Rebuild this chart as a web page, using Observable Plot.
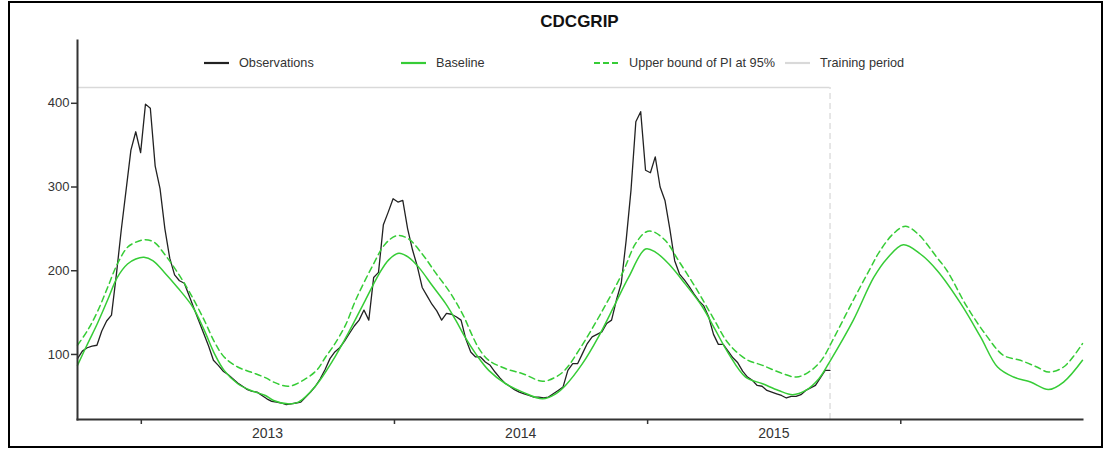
<!DOCTYPE html>
<html>
<head>
<meta charset="utf-8">
<script src="https://cdn.jsdelivr.net/npm/d3@7"></script>
<script src="https://cdn.jsdelivr.net/npm/@observablehq/plot@0.6"></script>
<style>
  html, body { margin: 0; padding: 0; background: #fff; }
  body { font-family: "Liberation Sans", Arial, sans-serif; }
  #wrap { position: relative; width: 1105px; height: 450px; overflow: hidden; background: #fff; }
  #chart { position: absolute; left: 0; top: 0; }
  #frame { position: absolute; left: 8px; top: 1px; width: 1095px; height: 447px; box-sizing: border-box; border: 2px solid #000; pointer-events: none; }
  #title { position: absolute; left: 77px; width: 1005px; top: 13px; text-align: center; font-weight: bold; font-size: 17px; line-height: 17px; color: #111; }
  .item { position: absolute; top: 55px; height: 16px; display: flex; align-items: center; font-size: 12.7px; line-height: 16px; color: #333; white-space: nowrap; }
  .item svg { display: block; margin-right: 10px; }
</style>
</head>
<body>
<div id="wrap">
  <div id="chart"></div>
  <div id="title"></div>
  <div id="legend"></div>
  <div id="frame"></div>
</div>
<script>
// ---- data ----
const chartTitle = "CDCGRIP";
const obsStart = "2012-10-01"; // first weekly observation
const observations = [
  95,104,108,110,111,128,140,147,195,248,296,344,366,341,399,394,325,298,250,215,
  195,188,185,170,155,140,125,110,93,87,80,76,71,66,62,58,56,55,51,47,
  44,43,42,40,41,42,43,49,55,62,71,82,95,103,108,116,125,134,141,153,
  141,192,198,255,270,286,282,284,250,225,205,180,170,160,152,141,149,148,145,141,
  118,103,97,97,91,87,79,72,66,62,58,55,53,51,49,49,48,49,53,57,
  61,81,89,89,101,113,121,124,127,137,141,165,185,236,296,378,390,320,317,336,
  300,284,250,212,196,189,181,172,164,158,145,124,112,112,104,96,90,80,73,69,
  63,62,57,55,53,51,48,50,50,52,57,60,63,72,81,81
];
// baseline: week offset from obsStart, value
const baselineWeek = [0,2.1,4.1,6.2,8.2,10.3,12,13.7,15.5,17.9,20.6,23.7,26.1,28.2,30.2,33,35.7,38.7,40.4,43.3,45.5,49,52.5,55.9,59.3,62.1,64.1,66.2,68.2,70.3,73.1,75.8,77.9,79.9,82,84.7,88.2,91.7,95.8,98.5,100.5,104,107.3,110.8,113.5,117,119.1,121.8,125.2,128.7,131.4,134.1,137.6,141.1,144.4,147.3,150,152.7,155.1,159.8,164,166.8,170.1,173.6,177.1,181.9,186,189.5,192.8,196.3,200,203.1,207];
const baselineValue = [87,113,137,165,192,208,214,216,212,198,180,157,129,101,81,65,57,51,45,41,43,62,92,127,165,196,213,221,216,204,182,161,141,120,101,81,65,55,47,53,63,89,121,161,192,226,222,208,184,157,129,101,73,65,57,52,57,71,93,141,192,215,231,220,200,161,121,85,73,67,58,67,93];
// upper bound of 95% prediction interval
const upperWeek = [0,2.1,4.1,6.2,8.2,10.3,12,13.7,15.8,17.9,20.6,23.3,26.1,28.2,30.2,33,35.7,38.8,40.4,43.5,47,49.4,51.1,52.7,55.2,57.3,60.7,63.4,65.8,68.2,71,73.7,76.5,78,79.6,81.2,82.8,84.7,88.2,91.7,95.8,98.5,100.5,103.6,107.7,112.3,114.9,117,118.4,121.1,123.8,127.3,130.8,134.1,137.8,141.1,144.4,148.1,150.6,153.1,155.9,159.8,163.3,165.1,168,170.5,173.1,177,179.1,183.2,187.4,190.7,194.2,197.6,200,203.1,207];
const upperValue = [111,129,151,180,208,228,234,237,234,220,198,172,141,115,97,85,79,72,67,62,71,82,97,110,135,165,205,232,242,238,220,198,176,162,145,124,106,93,83,77,68,73,82,108,148,198,232,246,247,236,212,180,145,113,94,87,79,73,79,92,121,165,203,222,244,253,244,216,200,157,121,99,93,85,79,85,113];
const trainingTop = 419;
const yearTicks = ["2013-01-01","2014-01-01","2015-01-01","2016-01-01"];
const yearLabelDates = ["2013-07-02","2014-07-02","2015-07-02"];
const yTicks = [100,200,300,400];
const yDomain = [22.3, 475];
const lastWeek = 207;
const legendLabels = ["Observations","Baseline","Upper bound of PI at 95%","Training period"];

// ---- build ----
const t0 = Date.parse(obsStart);
const weekDate = w => new Date(t0 + w * 7 * 864e5);
const obsData = observations.map((v, i) => ({date: weekDate(i), value: v}));
const baseData = baselineWeek.map((w, i) => ({date: weekDate(w), value: baselineValue[i]}));
const upperData = upperWeek.map((w, i) => ({date: weekDate(w), value: upperValue[i]}));
const trainEnd = obsData[obsData.length - 1].date;

const green = "#36cc36";
const gray = "#d9d9d9";

const plot = Plot.plot({
  width: 1105,
  height: 450,
  marginLeft: 77,
  marginRight: 23,
  marginTop: 40,
  marginBottom: 31,
  style: {fontFamily: "'Liberation Sans', Arial, sans-serif", fontSize: "13px", color: "#333", background: "transparent"},
  x: {type: "utc", domain: [weekDate(0), weekDate(lastWeek)], label: null},
  y: {domain: yDomain, label: null},
  marks: [
    Plot.ruleY([{y: trainingTop, x1: weekDate(0), x2: trainEnd}], {y: "y", x1: "x1", x2: "x2", stroke: gray, strokeWidth: 1.5}),
    Plot.ruleX([{x: trainEnd}], {x: "x", y1: yDomain[0], y2: trainingTop, stroke: gray, strokeWidth: 1.3, strokeDasharray: "6,4"}),
    Plot.line(obsData, {x: "date", y: "value", stroke: "#222", strokeWidth: 1.3}),
    Plot.line(upperData, {x: "date", y: "value", stroke: green, strokeWidth: 1.5, strokeDasharray: "6,4", curve: "catmull-rom"}),
    Plot.line(baseData, {x: "date", y: "value", stroke: green, strokeWidth: 1.5, curve: "catmull-rom"}),
    Plot.frame({anchor: "left", stroke: "#333", strokeWidth: 2}),
    Plot.frame({anchor: "bottom", stroke: "#333", strokeWidth: 2}),
    Plot.axisY({ticks: yTicks, tickSize: 6, tickPadding: 2, fontSize: 13, stroke: "#333", strokeWidth: 1.5, label: null}),
    Plot.axisX({ticks: yearTicks.map(d => new Date(d)), tickSize: 5, tickFormat: () => "", stroke: "#333", strokeWidth: 1.5, label: null}),
    Plot.axisX({ticks: yearLabelDates.map(d => new Date(d)), tickSize: 0, tickPadding: 9, fontSize: 14, tickFormat: d3.utcFormat("%Y"), label: null})
  ]
});
document.getElementById("chart").appendChild(plot);
document.getElementById("title").textContent = chartTitle;

// legend
const legendLeft = [204, 401, 594, 785];
const legendStyle = [
  {stroke: "#222", dash: null},
  {stroke: green, dash: null},
  {stroke: green, dash: "6,3"},
  {stroke: gray, dash: null}
];
const legend = document.getElementById("legend");
legendLabels.forEach((lab, i) => {
  const d = document.createElement("div");
  d.className = "item";
  d.style.left = legendLeft[i] + "px";
  const s = legendStyle[i];
  d.innerHTML = `<svg width="25" height="16"><line x1="0" x2="25" y1="8" y2="8" stroke="${s.stroke}" stroke-width="2.2"${s.dash ? ` stroke-dasharray="${s.dash}"` : ""}/></svg><span></span>`;
  d.querySelector("span").textContent = lab;
  legend.appendChild(d);
});
</script>
</body>
</html>
